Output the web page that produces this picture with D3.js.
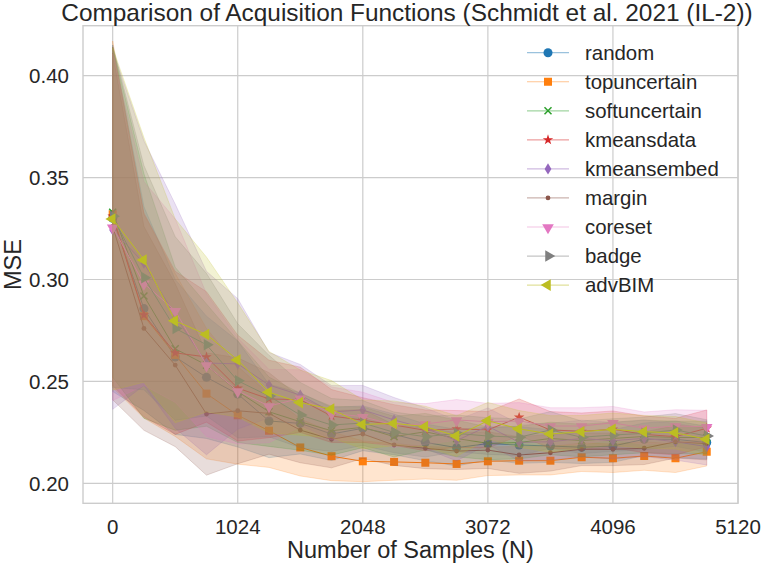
<!DOCTYPE html>
<html>
<head>
<meta charset="utf-8">
<script src="https://cdn.jsdelivr.net/npm/d3@7"></script>
<style>
  body { margin: 0; background: #fff; }
  svg { font-family: Arial, "Liberation Sans", Helvetica, sans-serif; }
</style>
</head>
<body>
<svg id="chart" width="761" height="566"></svg>
<script>
const samples = [0, 256, 512, 768, 1024, 1280, 1536, 1792, 2048, 2304, 2560, 2816, 3072, 3328, 3584, 3840, 4096, 4352, 4608, 4864];
const xTicks = [0, 1024, 2048, 3072, 4096, 5120];
const yTicks = [0.20, 0.25, 0.30, 0.35, 0.40];

const names = ["random", "topuncertain", "softuncertain", "kmeansdata", "kmeansembed", "margin", "coreset", "badge", "advBIM"];
const colors = ["#1f77b4", "#ff7f0e", "#2ca02c", "#d62728", "#9467bd", "#8c564b", "#e377c2", "#7f7f7f", "#bcbd22"];
const markers = ["circle", "square", "x", "star", "thindiamond", "point", "tridown", "triright", "trileft"];

const randomMean = [0.330, 0.2857, 0.262, 0.252, 0.2438, 0.2306, 0.2294, 0.2242, 0.227, 0.224, 0.2201, 0.2175, 0.2195, 0.2188, 0.2183, 0.2177, 0.2183, 0.2216, 0.2216, 0.220];
const topMean = [0.332, 0.282, 0.263, 0.244, 0.2334, 0.2258, 0.2176, 0.2133, 0.2108, 0.2105, 0.2101, 0.2095, 0.2108, 0.2111, 0.2111, 0.2128, 0.2123, 0.2134, 0.2123, 0.2155];
const softMean = [0.333, 0.2919, 0.266, 0.258, 0.245, 0.2351, 0.2302, 0.2258, 0.2275, 0.2229, 0.2253, 0.222, 0.2196, 0.220, 0.222, 0.221, 0.222, 0.223, 0.2225, 0.2225];
const kmdataMean = [0.331, 0.2826, 0.264, 0.262, 0.2467, 0.2414, 0.241, 0.233, 0.231, 0.2286, 0.226, 0.2267, 0.2262, 0.2324, 0.2262, 0.2255, 0.2265, 0.224, 0.2229, 0.227];
const kmembedMean = [0.3243, 0.308, 0.282, 0.259, 0.2586, 0.2482, 0.2433, 0.235, 0.236, 0.2311, 0.227, 0.221, 0.228, 0.2201, 0.2204, 0.222, 0.2209, 0.2221, 0.2204, 0.218];
const marginMean = [0.326, 0.276, 0.258, 0.234, 0.2356, 0.2343, 0.2261, 0.2216, 0.2242, 0.2188, 0.2172, 0.2158, 0.2163, 0.2139, 0.215, 0.2167, 0.2167, 0.2172, 0.2204, 0.2195];
const coresetMean = [0.3256, 0.298, 0.2847, 0.258, 0.2453, 0.2379, 0.2417, 0.2343, 0.2327, 0.2286, 0.2291, 0.2311, 0.2302, 0.2306, 0.2281, 0.2281, 0.2297, 0.227, 0.2281, 0.2278];
const badgeMean = [0.331, 0.3009, 0.276, 0.268, 0.2503, 0.2428, 0.2335, 0.2286, 0.2296, 0.225, 0.2229, 0.2245, 0.2232, 0.2226, 0.2262, 0.2226, 0.2237, 0.2245, 0.2262, 0.2232];
const advMean = [0.3297, 0.3096, 0.2797, 0.273, 0.2605, 0.2447, 0.2396, 0.2364, 0.2289, 0.2294, 0.2278, 0.2232, 0.2307, 0.2267, 0.2242, 0.2253, 0.2265, 0.2253, 0.2248, 0.2216];

// spread (std) of each run
const randomSd = [0.085, 0.05, 0.038, 0.03, 0.026, 0.018, 0.015, 0.013, 0.011, 0.010, 0.009, 0.009, 0.008, 0.009, 0.008, 0.008, 0.008, 0.008, 0.009, 0.008];
const topSd = [0.085, 0.05, 0.04, 0.032, 0.024, 0.018, 0.014, 0.012, 0.010, 0.009, 0.008, 0.008, 0.007, 0.007, 0.007, 0.007, 0.007, 0.007, 0.007, 0.007];
const softSd = [0.081, 0.06, 0.04, 0.03, 0.025, 0.017, 0.014, 0.012, 0.010, 0.010, 0.009, 0.009, 0.008, 0.008, 0.008, 0.008, 0.008, 0.008, 0.008, 0.008];
const kmdataSd = [0.083, 0.05, 0.04, 0.032, 0.026, 0.019, 0.016, 0.013, 0.011, 0.010, 0.010, 0.009, 0.009, 0.009, 0.009, 0.009, 0.009, 0.009, 0.009, 0.009];
const kmembedSd = [0.088, 0.06, 0.055, 0.045, 0.032, 0.016, 0.015, 0.013, 0.012, 0.011, 0.010, 0.010, 0.009, 0.009, 0.009, 0.009, 0.009, 0.009, 0.009, 0.009];
const marginSd = [0.085, 0.05, 0.04, 0.03, 0.026, 0.02, 0.016, 0.014, 0.012, 0.010, 0.010, 0.009, 0.009, 0.009, 0.009, 0.008, 0.008, 0.008, 0.008, 0.008];
const coresetSd = [0.085, 0.05, 0.045, 0.035, 0.026, 0.018, 0.014, 0.013, 0.012, 0.011, 0.010, 0.010, 0.009, 0.009, 0.009, 0.009, 0.008, 0.008, 0.008, 0.008];
const badgeSd = [0.084, 0.055, 0.045, 0.035, 0.028, 0.02, 0.016, 0.013, 0.011, 0.010, 0.010, 0.009, 0.009, 0.009, 0.009, 0.008, 0.008, 0.008, 0.008, 0.008];
const advSd = [0.084, 0.06, 0.05, 0.038, 0.028, 0.02, 0.016, 0.014, 0.012, 0.011, 0.010, 0.010, 0.009, 0.009, 0.009, 0.008, 0.008, 0.008, 0.008, 0.008];

const means = [randomMean, topMean, softMean, kmdataMean, kmembedMean, marginMean, coresetMean, badgeMean, advMean];
const sds = [randomSd, topSd, softSd, kmdataSd, kmembedSd, marginSd, coresetSd, badgeSd, advSd];

const svg = d3.select("#chart");
const textColor = "#262626";
const gridColor = "#cccccc";

const x = d3.scaleLinear().domain([-243, 5120]).range([83, 738]);
const y = d3.scaleLinear().domain([0.1902, 0.4245]).range([503.3, 25.7]);

// grid
const grid = svg.append("g");
grid.selectAll(".gx")
    .data(xTicks)
    .enter()
    .append("line")
    .attr("x1", (d) => x(d))
    .attr("x2", (d) => x(d))
    .attr("y1", y.range()[0])
    .attr("y2", y.range()[1])
    .attr("stroke", gridColor)
    .attr("stroke-width", 1.2);
grid.selectAll(".gy")
    .data(yTicks)
    .enter()
    .append("line")
    .attr("x1", x.range()[0])
    .attr("x2", x.range()[1])
    .attr("y1", (d) => y(d))
    .attr("y2", (d) => y(d))
    .attr("stroke", gridColor)
    .attr("stroke-width", 1.2);

// marker paths
function markerPath(kind) {
    switch (kind) {
        case "circle": return d3.symbol().type(d3.symbolCircle).size(64)();
        case "square": return d3.symbol().type(d3.symbolSquare).size(64)();
        case "star": return d3.symbol().type(d3.symbolStar).size(34)();
        case "point": return d3.symbol().type(d3.symbolCircle).size(18)();
        case "x": return "M-3.5,-3.5L3.5,3.5M-3.5,3.5L3.5,-3.5";
        default: return d3.symbol().type(d3.symbolTriangle).size(58)();
    }
}
function markerTransform(kind) {
    if (kind === "tridown") return "rotate(180) translate(0,-0.6)";
    if (kind === "triright") return "rotate(90) translate(0,-0.6)";
    if (kind === "trileft") return "rotate(-90) translate(0,-0.6)";
    return "";
}
function drawMarker(g, kind, color) {
    if (kind === "thindiamond") {
        g.append("path")
            .attr("d", "M0,-5.6L3.4,0L0,5.6L-3.4,0Z")
            .attr("fill", color);
        return;
    }
    const p = g.append("path")
        .attr("d", markerPath(kind))
        .attr("transform", markerTransform(kind));
    if (kind === "x") {
        p.attr("fill", "none").attr("stroke", color).attr("stroke-width", 1.5);
    } else {
        p.attr("fill", color);
    }
}

const area = d3.area()
    .x((d) => x(d.n))
    .y0((d) => y(d.m - d.s))
    .y1((d) => y(d.m + d.s));
const line = d3.line()
    .x((d) => x(d.n))
    .y((d) => y(d.m));

const plot = svg.append("g");
names.forEach((name, k) => {
    const rows = samples.map((n, i) => ({ n: n, m: means[k][i], s: sds[k][i] }));
    plot.append("path")
        .attr("d", area(rows))
        .attr("fill", colors[k])
        .attr("fill-opacity", 0.2)
        .attr("stroke", colors[k])
        .attr("stroke-opacity", 0.2)
        .attr("stroke-width", 1);
    plot.append("path")
        .attr("d", line(rows))
        .attr("fill", "none")
        .attr("stroke", colors[k])
        .attr("stroke-width", 1);
    rows.forEach((r) => {
        const g = plot.append("g")
            .attr("transform", `translate(${x(r.n)},${y(r.m)})`);
        drawMarker(g, markers[k], colors[k]);
    });
});

// frame
svg.append("rect")
    .attr("x", x.range()[0])
    .attr("y", y.range()[1])
    .attr("width", x.range()[1] - x.range()[0])
    .attr("height", y.range()[0] - y.range()[1])
    .attr("fill", "none")
    .attr("stroke", gridColor)
    .attr("stroke-width", 1.4);

// tick labels
svg.selectAll(".xt")
    .data(xTicks)
    .enter()
    .append("text")
    .attr("x", (d) => x(d))
    .attr("y", 534)
    .attr("text-anchor", "middle")
    .attr("font-size", 20.5)
    .attr("fill", textColor)
    .text((d) => d);
svg.selectAll(".yt")
    .data(yTicks)
    .enter()
    .append("text")
    .attr("x", 69)
    .attr("y", (d) => y(d) + 7.4)
    .attr("text-anchor", "end")
    .attr("font-size", 20.5)
    .attr("fill", textColor)
    .text((d) => d.toFixed(2));

// axis titles
svg.append("text")
    .attr("x", (x.range()[0] + x.range()[1]) / 2)
    .attr("y", 558)
    .attr("text-anchor", "middle")
    .attr("font-size", 23.5)
    .attr("fill", textColor)
    .text("Number of Samples (N)");
svg.append("text")
    .attr("transform", `translate(21,${(y.range()[0] + y.range()[1]) / 2}) rotate(-90)`)
    .attr("text-anchor", "middle")
    .attr("font-size", 23.5)
    .attr("fill", textColor)
    .text("MSE");
svg.append("text")
    .attr("x", 407)
    .attr("y", 20.5)
    .attr("text-anchor", "middle")
    .attr("font-size", 24.4)
    .attr("fill", textColor)
    .text("Comparison of Acquisition Functions (Schmidt et al. 2021 (IL-2))");

// legend
const legend = svg.append("g");
names.forEach((name, k) => {
    const ly = 52.7 + k * 29.05;
    const g = legend.append("g").attr("transform", `translate(0,${ly})`);
    g.append("line")
        .attr("x1", 527)
        .attr("x2", 569)
        .attr("stroke", colors[k])
        .attr("stroke-opacity", 0.45)
        .attr("stroke-width", 1.2);
    const mg = g.append("g").attr("transform", "translate(548,0)");
    drawMarker(mg, markers[k], colors[k]);
    g.append("text")
        .attr("x", 585)
        .attr("y", 7)
        .attr("font-size", 20.4)
        .attr("fill", textColor)
        .text(name);
});
</script>
</body>
</html>
